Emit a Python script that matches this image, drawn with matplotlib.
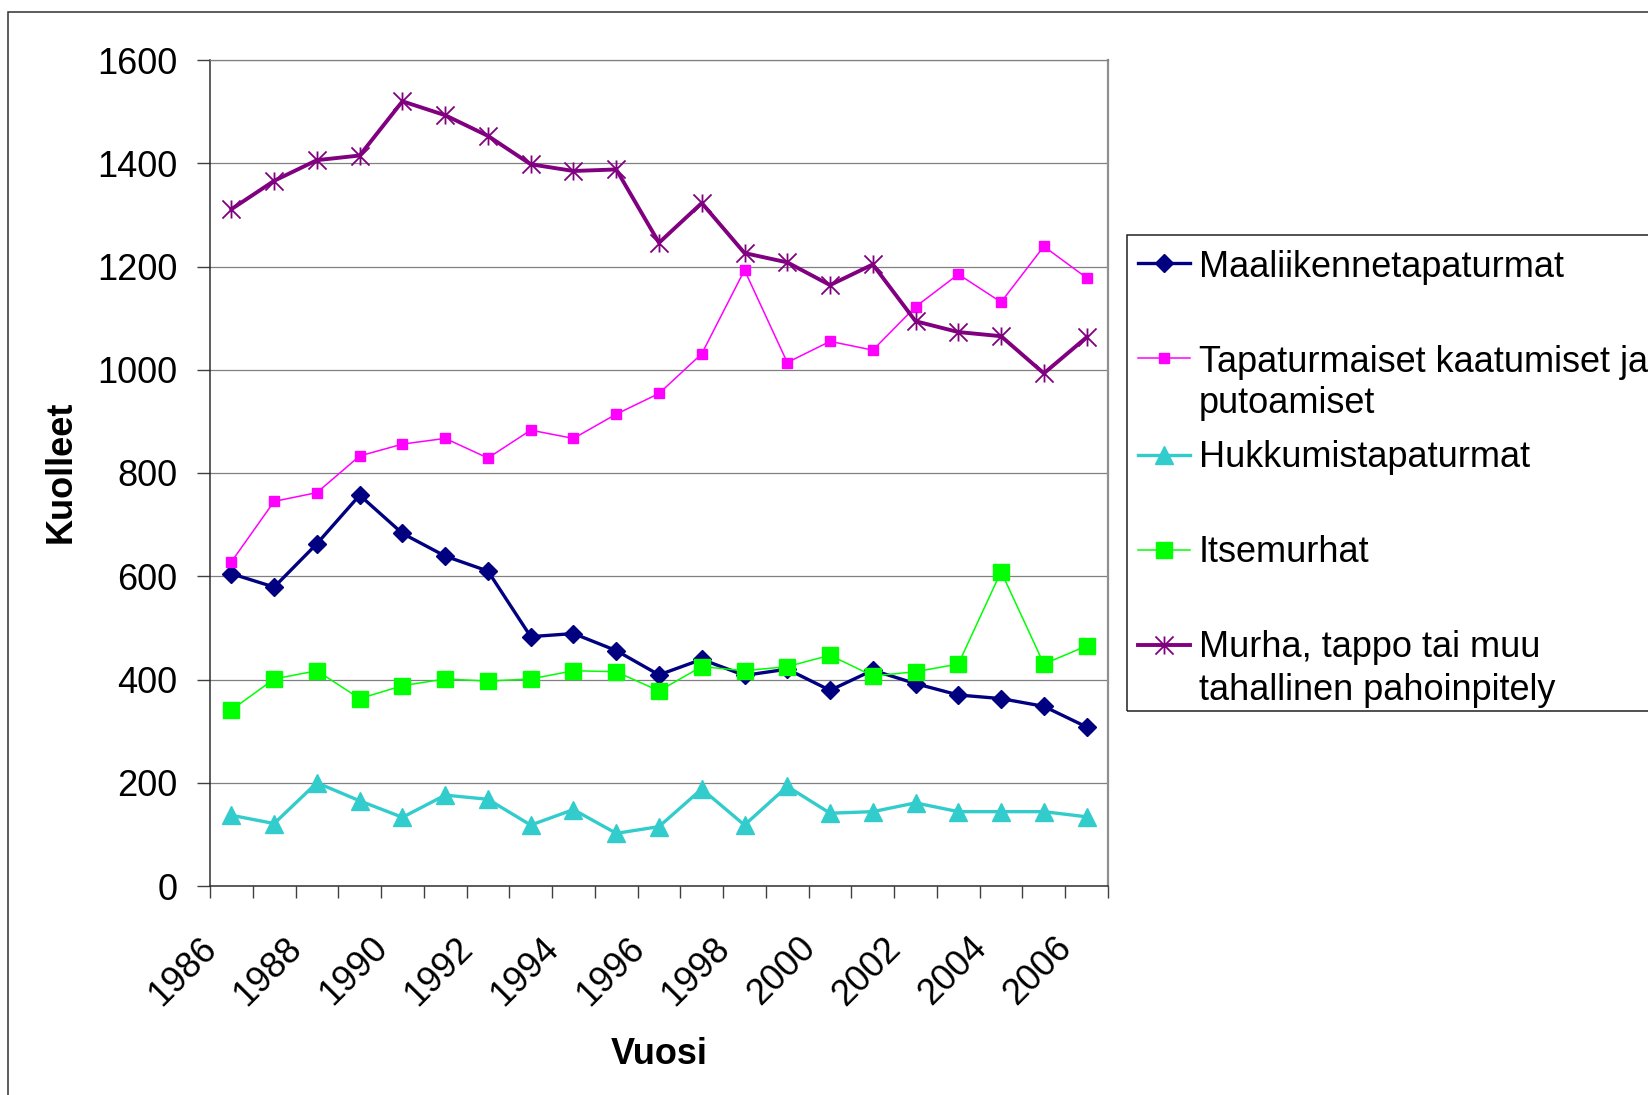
import matplotlib
matplotlib.use("Agg")
import matplotlib.pyplot as plt
from matplotlib.lines import Line2D
from matplotlib.patches import Rectangle
from matplotlib.path import Path
from matplotlib.transforms import ScaledTranslation

plt.rcParams['font.family'] = ['Liberation Sans', 'DejaVu Sans']

years = list(range(1986, 2007))
traffic = [605, 579, 663, 757, 683, 639, 610, 483, 489, 456, 409, 439, 408, 420, 379, 418, 392, 370, 363, 348, 308]
falls = [628, 745, 762, 833, 856, 867, 829, 883, 867, 914, 954, 1031, 1193, 1014, 1055, 1038, 1122, 1185, 1131, 1239, 1178]
drowning = [137, 121, 200, 165, 133, 176, 168, 118, 148, 102, 115, 188, 118, 193, 141, 144, 161, 144, 144, 144, 134]
suicide = [341, 401, 417, 363, 388, 401, 397, 401, 417, 415, 378, 425, 417, 425, 447, 407, 415, 430, 609, 430, 465]
murder = [1311, 1366, 1406, 1415, 1520, 1493, 1453, 1398, 1385, 1388, 1246, 1323, 1226, 1208, 1164, 1204, 1094, 1073, 1065, 993, 1063]

labels = ["Maaliikennetapaturmat",
          "Tapaturmaiset kaatumiset ja\nputoamiset",
          "Hukkumistapaturmat",
          "Itsemurhat",
          "Murha, tappo tai muu\ntahallinen pahoinpitely"]
yticks = [0, 200, 400, 600, 800, 1000, 1200, 1400, 1600]
xlabel = "Vuosi"
ylabel = "Kuolleet"

# Excel-style star marker: X plus vertical stroke
star = Path([(0, -1), (0, 1), (-1, -1), (1, 1), (-1, 1), (1, -1)],
            [Path.MOVETO, Path.LINETO, Path.MOVETO, Path.LINETO, Path.MOVETO, Path.LINETO])

series = [traffic, falls, drowning, suicide, murder]
styles = [
    dict(color='#000080', lw=2.4, marker='D', ms=9, mec='#000080', mfc='#000080', mew=1),
    dict(color='#FF00FF', lw=1.1, marker='s', ms=7, mec='#FF00FF', mfc='#FF00FF', mew=1),
    dict(color='#33CCCC', lw=2.4, marker='^', ms=13, mec='#33CCCC', mfc='#33CCCC', mew=1),
    dict(color='#00FF00', lw=1.1, marker='s', ms=11, mec='#00FF00', mfc='#00FF00', mew=1),
    dict(color='#800080', lw=2.8, marker=star, ms=13, mec='#800080', mfc='none', mew=1.3),
]

W, H = 1648, 1095
fig = plt.figure(figsize=(W / 100, H / 100), dpi=100)

L, R, T, B = 210, 1108, 60, 886
ax = fig.add_axes([L / W, 1 - B / H, (R - L) / W, (B - T) / H])

x = list(range(len(years)))
for vals, st in zip(series, styles):
    ax.plot(x, vals, **st, zorder=3)

ax.set_xlim(-0.5, len(years) - 0.5)
ax.set_ylim(0, 1600)
ax.set_yticks(yticks)
ax.set_yticklabels([str(v) for v in yticks], fontsize=26)
ax.yaxis.grid(True, color='#808080', lw=0.9)
ax.set_axisbelow(True)

ax.set_xticks(x[::2])
ax.set_xticklabels([str(y) for y in years[::2]], fontsize=26)
ax.set_xticks([i - 0.5 for i in range(len(years) + 1)], minor=True)
ax.tick_params(axis='x', which='major', length=0, pad=41)
ax.tick_params(axis='x', which='minor', length=8.6, width=1.0, color='#404040', direction='out')
ax.tick_params(axis='y', which='major', length=9.4, width=1.0, color='#404040', direction='out', pad=14)

off = ScaledTranslation(-0.20, 0, fig.dpi_scale_trans)
for lab in ax.get_xticklabels():
    lab.set_rotation(45)
    lab.set_ha('right')
    lab.set_va('center')
    lab.set_rotation_mode('anchor')
    lab.set_transform(lab.get_transform() + off)

for side in ['left', 'bottom']:
    ax.spines[side].set_color('#303030')
    ax.spines[side].set_linewidth(1.1)
ax.spines['right'].set_color('#909090')
ax.spines['right'].set_linewidth(1.6)
ax.spines['top'].set_color('#808080')
ax.spines['top'].set_linewidth(0.9)

ax.set_xlabel(xlabel, fontsize=26, fontweight='bold', va='center')
ax.xaxis.set_label_coords(0.5, -(1055 - B) / (B - T))
ax.set_ylabel(ylabel, fontsize=26, fontweight='bold', va='center')
ax.yaxis.set_label_coords((61 - L) / (R - L), 0.5 - (472 - (T + B) / 2) / (B - T))

# chart-area border
fig.add_artist(Rectangle((8 / W, -0.1), 1.2, (1 - 12 / H) + 0.1, transform=fig.transFigure,
                         fill=False, ec='#303030', lw=1.1))

# legend box
lx0, ly_top, ly_bot = 1127, 235, 711
fig.add_artist(Rectangle((lx0 / W, 1 - ly_bot / H), 1.0, (ly_bot - ly_top) / H,
                         transform=fig.transFigure, fill=False, ec='#202020', lw=1.1))

marker_y = [263, 358, 455, 550, 645]
baselines = [[277], [372, 413], [467], [562], [657, 700]]
for st, my, lab, bls in zip(styles, marker_y, labels, baselines):
    fy = 1 - my / H
    fig.add_artist(Line2D([1138 / W, 1164 / W, 1190 / W], [fy, fy, fy], transform=fig.transFigure,
                          markevery=[1], **st))
    for line, bl in zip(lab.split("\n"), bls):
        fig.text(1199 / W, 1 - bl / H, line, fontsize=26, va='baseline', ha='left')

fig.savefig("out.png", dpi=100)
